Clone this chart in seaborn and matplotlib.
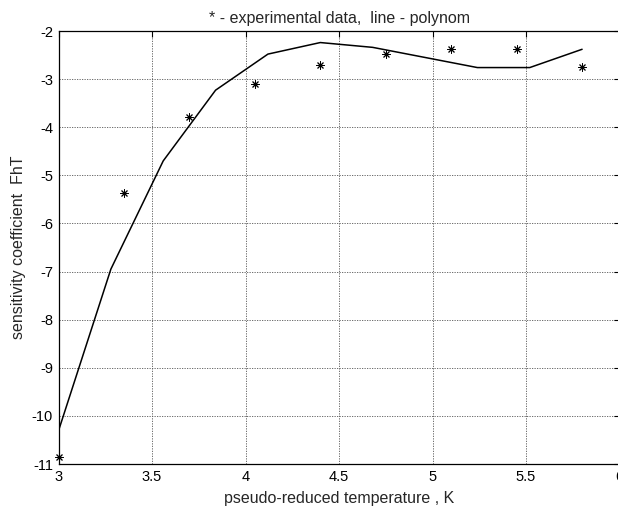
import matplotlib
matplotlib.use("Agg")
import matplotlib.pyplot as plt
import seaborn as sns
import pandas as pd

# experimental data
exp_x = [3.00, 3.35, 3.70, 4.05, 4.40, 4.75, 5.10, 5.45, 5.80]
exp_y = [-10.86, -5.36, -3.79, -3.10, -2.71, -2.48, -2.37, -2.37, -2.74]

# polynomial line
poly_x = [3.00, 3.28, 3.56, 3.84, 4.12, 4.40, 4.68, 4.96, 5.24, 5.52, 5.80]
poly_y = [-10.31, -6.95, -4.70, -3.23, -2.48, -2.24, -2.34, -2.55, -2.76, -2.76, -2.38]

x_ticks = [3, 3.5, 4, 4.5, 5, 5.5, 6]
x_tick_labels = ["3", "3.5", "4", "4.5", "5", "5.5", "6"]
y_ticks = [-11, -10, -9, -8, -7, -6, -5, -4, -3, -2]
y_tick_labels = ["-11", "-10", "-9", "-8", "-7", "-6", "-5", "-4", "-3", "-2"]

sns.set_style("white")
plt.rcParams['font.family'] = ['Liberation Sans', 'DejaVu Sans']

fig = plt.figure(figsize=(6.18, 5.11), dpi=100)
ax = fig.add_axes([58.5 / 618, 1 - 464 / 511, (619.5 - 58.5) / 618, (464 - 31) / 511])

df_line = pd.DataFrame({"x": poly_x, "y": poly_y})
df_pts = pd.DataFrame({"x": exp_x, "y": exp_y})

sns.lineplot(data=df_line, x="x", y="y", ax=ax, color="black", linewidth=1.1, sort=False)
sns.scatterplot(data=df_pts, x="x", y="y", ax=ax, color="black", marker=(8, 2, 0), s=28,
                linewidth=0.7, edgecolor="black", clip_on=False, zorder=5)

ax.set_xlim(3, 6)
ax.set_ylim(-11, -2)
ax.set_xticks(x_ticks)
ax.set_xticklabels(x_tick_labels)
ax.set_yticks(y_ticks)
ax.set_yticklabels(y_tick_labels)
ax.tick_params(direction="in", top=True, right=True, length=4, width=0.8, labelsize=10.5,
               colors="black", pad=4)
ax.grid(True, linestyle=(0, (1.5, 1.5)), color="#555555", linewidth=0.6)
for s in ax.spines.values():
    s.set_color("black")
    s.set_linewidth(0.9)

ax.set_xlabel("pseudo-reduced temperature , K", fontsize=11.5, labelpad=5)
ax.set_ylabel("sensitivity coefficient  FhT", fontsize=11.5, labelpad=4)
ax.set_title("* - experimental data,  line - polynom", fontsize=11.5, pad=6)

fig.savefig("out.png", dpi=100)
